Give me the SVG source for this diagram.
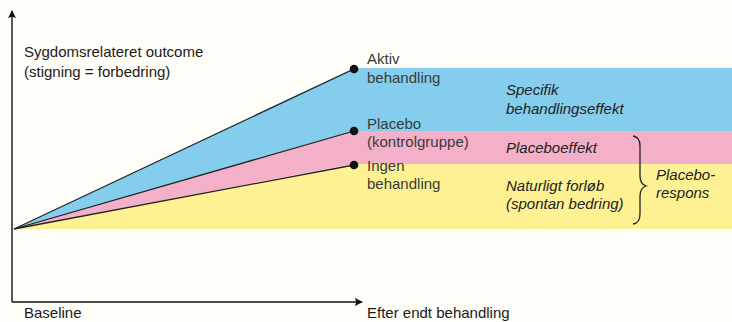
<svg xmlns="http://www.w3.org/2000/svg" width="732" height="322" viewBox="0 0 732 322">
<defs>
<style>
.t{font-family:"Liberation Sans",Arial,sans-serif;font-size:15px;fill:#1a1a1a}
.g{fill:#3a3a3a}
.i{font-style:italic;fill:#222}
.ln{stroke:#222;stroke-width:1.3;fill:none}
.ax{stroke:#111;stroke-width:1.4;fill:none}
</style>
<marker id="ah" viewBox="0 0 10 10" refX="9" refY="5" markerWidth="8" markerHeight="8" markerUnits="userSpaceOnUse" orient="auto">
<path d="M0,0 L10,5 L0,10 L2,5 Z" fill="#111"/>
</marker>
</defs>
<rect width="732" height="322" fill="#fffdf8"/>
<g id="bands">
<polygon points="14,229 354,68 732,68 732,131 354,131" fill="#84cdec"/>
<polygon points="14,229 354,131 732,131 732,164 354,164" fill="#f4afc9"/>
<polygon points="14,229 354,164 732,164 732,229" fill="#fef193"/>
</g>
<g id="connectors">
<line class="ax" x1="12" y1="302" x2="12" y2="11" marker-end="url(#ah)"/>
<line class="ax" x1="12" y1="302" x2="362" y2="302" marker-end="url(#ah)"/>
<line class="ln" x1="14" y1="229" x2="354" y2="69"/>
<line class="ln" x1="14" y1="229" x2="354" y2="131"/>
<line class="ln" x1="14" y1="229" x2="354" y2="165"/>
<path class="ln" d="M633,136 Q640,137 640,146 L640,176 Q640,184 646,186 Q640,188 640,196 L640,214 Q640,223 633,224" stroke-width="1.1"/>
</g>
<g id="axis-y-label"><text class="t" x="24" y="57">Sygdomsrelateret outcome</text><text class="t" x="24" y="77">(stigning = forbedring)</text></g>
<g id="axis-x-start"><text class="t" x="24" y="318">Baseline</text></g>
<g id="axis-x-end"><text class="t" x="367" y="318">Efter endt behandling</text></g>
<g id="node-aktiv"><circle cx="354" cy="69" r="4.3" fill="#111"/><text class="t g" x="367" y="64">Aktiv</text><text class="t g" x="367" y="83">behandling</text></g>
<g id="node-placebo"><circle cx="354" cy="131" r="4.3" fill="#111"/><text class="t g" x="367" y="129">Placebo</text><text class="t g" x="367" y="147">(kontrolgruppe)</text></g>
<g id="node-ingen"><circle cx="354" cy="165" r="4.3" fill="#111"/><text class="t g" x="367" y="171">Ingen</text><text class="t g" x="367" y="189">behandling</text></g>
<g id="label-specifik"><text class="t i" x="506" y="95">Specifik</text><text class="t i" x="506" y="114">behandlingseffekt</text></g>
<g id="label-placeboeffekt"><text class="t i" x="506" y="153">Placeboeffekt</text></g>
<g id="label-naturligt"><text class="t i" x="506" y="191">Naturligt forløb</text><text class="t i" x="506" y="209">(spontan bedring)</text></g>
<g id="label-placeborespons"><text class="t i" x="656" y="180">Placebo-</text><text class="t i" x="656" y="198">respons</text></g>
</svg>
